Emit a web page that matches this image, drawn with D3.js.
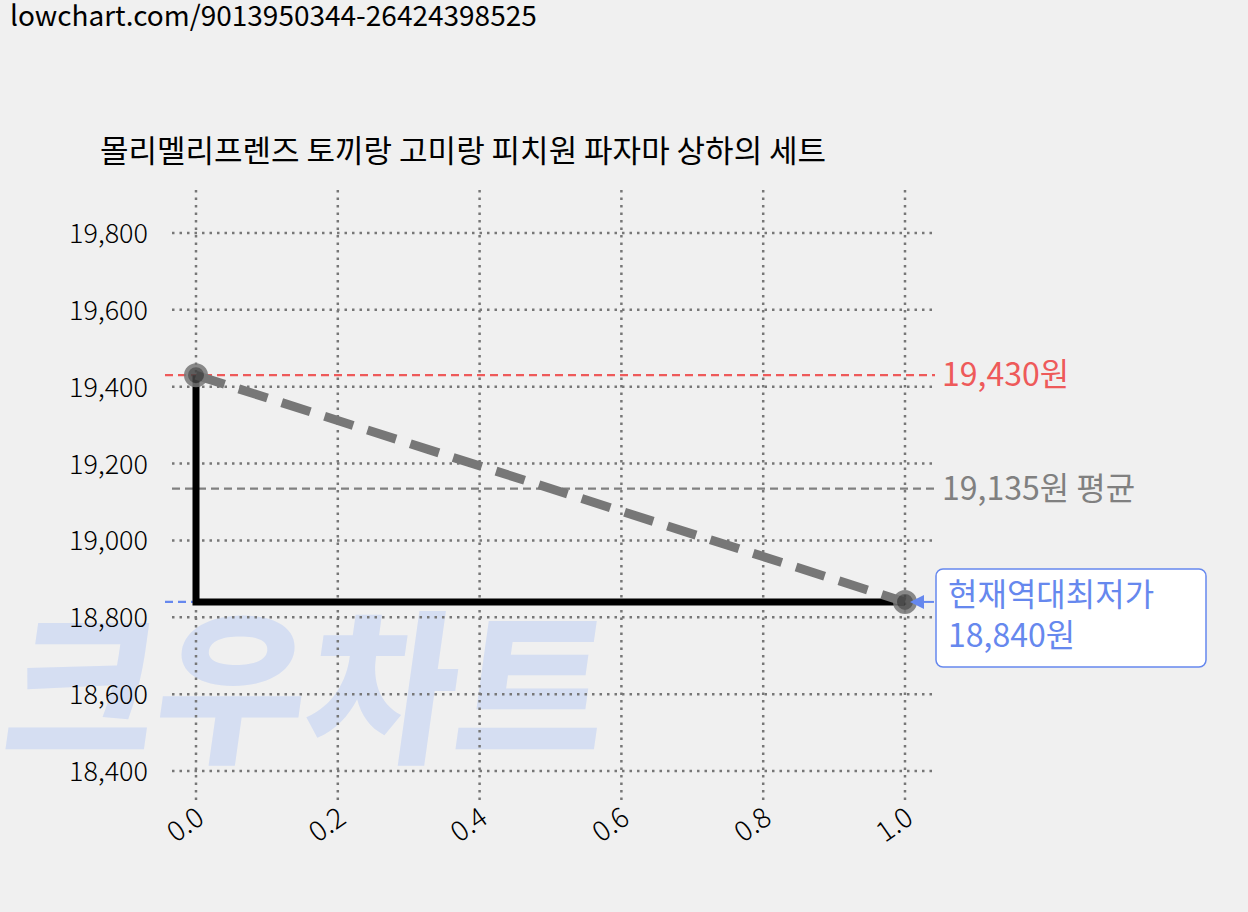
<!DOCTYPE html>
<html><head><meta charset="utf-8">
<script src="https://cdn.jsdelivr.net/npm/d3@7"></script>
<style>body{margin:0;background:#f0f0f0}text{font-family:"Noto Sans CJK KR","Noto Sans",sans-serif}</style>
</head><body><svg width="1248" height="912"></svg>
<script>
const title = '몰리멜리프렌즈 토끼랑 고미랑 피치원 파자마 상하의 세트';
const xs = [0, 1];
const prices = [19430, 18840];
const maxPrice = 19430, avgPrice = 19135, minPrice = 18840;
const yTicks = [18400, 18600, 18800, 19000, 19200, 19400, 19600, 19800];
const xTicks = [0, 0.2, 0.4, 0.6, 0.8, 1.0];

const svg = d3.select('svg');
svg.append('rect').attr('width', 1248).attr('height', 912).attr('fill', '#f0f0f0');
svg.append('text').attr('x', 10).attr('y', 26).attr('font-size', 28).text('lowchart.com/9013950344-26424398525');

// watermark
svg.append('text').attr('x', 10).attr('y', 750).attr('font-size', 165).attr('font-weight', 900)
  .attr('fill', '#d5def2').attr('transform', 'skewX(-8) translate(95,0)')
  .attr('textLength', 600).attr('lengthAdjust', 'spacingAndGlyphs').text('크우차트');

const x = d3.scaleLinear().domain([0, 1]).range([196, 905]);
const y = d3.scaleLinear().domain([18400, 19800]).range([771, 233]);

svg.append('text').attr('x', 100).attr('y', 162).attr('font-size', 31).text(title);

const grid = svg.append('g').attr('stroke', '#777').attr('stroke-width', 2.5).attr('stroke-dasharray', '2.5,5');
grid.selectAll('.h').data(yTicks).join('line').attr('x1', 172).attr('x2', 935)
  .attr('y1', d => y(d)).attr('y2', d => y(d));
grid.selectAll('.v').data(xTicks).join('line').attr('y1', 190).attr('y2', 800)
  .attr('x1', d => x(d)).attr('x2', d => x(d));

svg.append('g').selectAll('text').data(yTicks).join('text')
  .attr('x', 148).attr('y', d => y(d) + 10).attr('text-anchor', 'end').attr('font-size', 27).attr('font-weight', 300)
  .text(d => d3.format(',')(d));
svg.append('g').selectAll('text').data(xTicks).join('text')
  .attr('text-anchor', 'end').attr('font-size', 28).attr('font-weight', 300)
  .attr('transform', d => `translate(${x(d) + 10},${822}) rotate(-35)`)
  .text(d => d.toFixed(1));

const hline = (v, x1, x2, c) => svg.append('line').attr('x1', x1).attr('x2', x2)
  .attr('y1', y(v)).attr('y2', y(v)).attr('stroke', c).attr('stroke-width', 2.2).attr('stroke-dasharray', '8,5');
hline(maxPrice, 165, 935, '#ee5a5a');
hline(avgPrice, 172, 935, '#808080');
hline(minPrice, 165, 905, '#6688ee');

// step line
svg.append('path').attr('fill', 'none').attr('stroke', '#000').attr('stroke-width', 7)
  .attr('d', `M${x(xs[0])},${y(prices[0])}V${y(prices[1])}H${x(xs[1])}`);
svg.append('path').attr('fill', 'none').attr('stroke', '#777').attr('stroke-width', 9).attr('stroke-dasharray', '30,15')
  .attr('d', d3.line().x((d, i) => x(xs[i])).y(d => y(d))(prices));
svg.selectAll('circle').data(prices).join('circle')
  .attr('cx', (d, i) => x(xs[i])).attr('cy', d => y(d)).attr('r', 10)
  .attr('fill', '#444').attr('stroke', '#777').attr('stroke-width', 4).attr('opacity', 0.85);

svg.append('text').attr('x', 942).attr('y', y(maxPrice) + 11).attr('font-size', 32).attr('fill', '#ee5a5a')
  .text(d3.format(',')(maxPrice) + '원');
svg.append('text').attr('x', 942).attr('y', y(avgPrice) + 11).attr('font-size', 32).attr('fill', '#808080')
  .text(d3.format(',')(avgPrice) + '원 평균');

svg.append('rect').attr('x', 936).attr('y', 569).attr('width', 270).attr('height', 98).attr('rx', 7)
  .attr('fill', '#fff').attr('stroke', '#6688ee').attr('stroke-width', 1.5);
svg.append('path').attr('d', `M934,${y(minPrice)}H913`).attr('stroke', '#6688ee').attr('stroke-width', 2);
svg.append('path').attr('d', `M910,${y(minPrice)}l14,-7v14z`).attr('fill', '#6688ee');
svg.append('text').attr('x', 948).attr('y', 606).attr('font-size', 32).attr('fill', '#6688ee').text('현재역대최저가');
svg.append('text').attr('x', 948).attr('y', 647).attr('font-size', 32).attr('fill', '#6688ee')
  .text(d3.format(',')(minPrice) + '원');
</script></body></html>
